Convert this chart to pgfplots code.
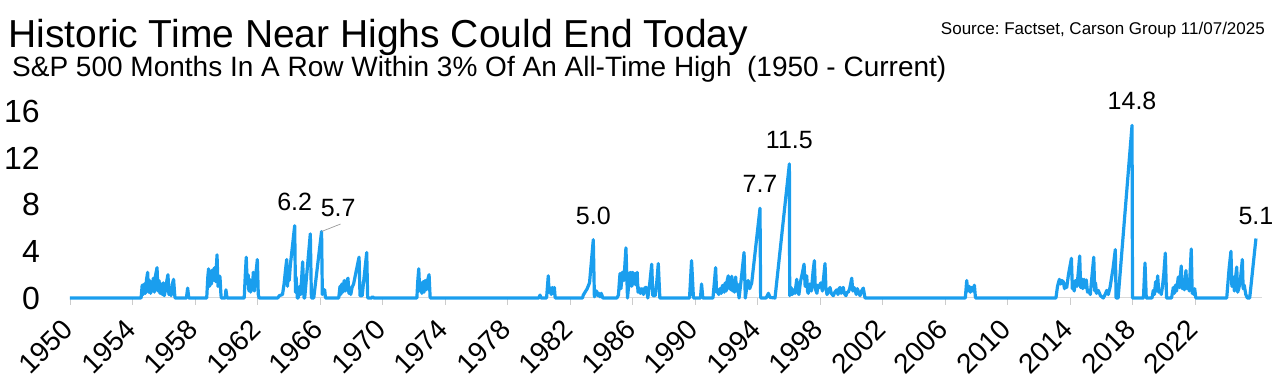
\documentclass[border=0pt]{standalone}
\usepackage{fontspec}
\setmainfont{Liberation Sans}
\usepackage{pgfplots}
\pgfplotsset{compat=1.18}
\definecolor{spx}{RGB}{26,158,238}
\frenchspacing
\begin{document}
\begin{tikzpicture}
\path[use as bounding box] (0pt,0pt) rectangle (1280pt,387pt);
\node[anchor=base west, inner sep=0pt, font=\fontsize{39}{44}\selectfont] at (8pt,339pt) {Historic Time Near Highs Could End Today};
\node[anchor=base east, inner sep=0pt, font=\fontsize{17}{20}\selectfont] at (1265pt,352pt) {Source: Factset, Carson Group 11/07/2025};
\node[anchor=base west, inner sep=0pt, font=\fontsize{28}{32}\selectfont] at (12pt,310pt) {S\&P 500 Months In A Row Within 3\% Of An All-Time High\ \ (1950 - Current)};
\begin{axis}[
  at={(70pt,89pt)}, anchor=south west,
  scale only axis, width=1192.2pt, height=186.6pt,
  xmin=1950, xmax=2026.3, ymin=0, ymax=16,
  clip=false,
  axis x line=bottom, axis y line=left,
  axis line style={-},
  x axis line style={draw=black!15, line width=1pt},
  y axis line style={draw=none},
  xtick={1950,1954,...,2022},
  ytick={0,4,8,12,16},
  tick align=outside,
  major tick length=7pt,
  x tick style={draw=black!20, line width=0.8pt},
  y tick style={draw=none},
  xticklabel style={font=\fontsize{28}{28}\selectfont, xshift=-2pt, yshift=-20pt, rotate=45, anchor=east, inner sep=0pt},
  yticklabel style={font=\fontsize{32}{32}\selectfont, anchor=east, inner sep=0pt, xshift=-23pt},
  /pgf/number format/1000 sep={},
  /pgf/number format/assume math mode=true,
]
\addplot[spx, line width=3.2pt, line join=round] coordinates {
(1950.0,0)
(1954.55,0) (1954.62,1.1) (1954.68,0.3) (1954.75,1.2) (1954.82,0.4) (1954.9,1.6) (1954.97,2.2) (1955.02,0.5) (1955.1,1.5) (1955.16,0.4) (1955.22,1.3) (1955.28,0.6) (1955.33,1.7) (1955.4,0.5) (1955.47,1.9) (1955.57,2.6) (1955.63,0.6) (1955.7,1.5) (1955.76,0.4) (1955.83,1.2) (1955.9,0.3) (1955.97,1.3) (1956.03,0.2) (1956.1,0.6) (1956.2,1.5) (1956.27,2.0) (1956.33,0.3) (1956.4,0.8) (1956.47,0.2) (1956.55,1.2) (1956.63,1.6) (1956.7,0.3) (1956.72,0)
(1957.45,0) (1957.53,0.85) (1957.6,0)
(1958.75,0) (1958.82,1.8) (1958.87,2.5) (1958.93,1.0) (1959.0,2.3) (1959.05,1.2) (1959.1,2.4) (1959.17,1.5) (1959.25,2.6) (1959.32,1.4) (1959.41,3.7) (1959.47,1.0) (1959.53,1.9) (1959.6,1.8) (1959.65,0.5) (1959.68,0) (1959.93,0) (1959.98,0.7) (1960.05,0)
(1961.15,0) (1961.22,2.0) (1961.28,3.5) (1961.34,1.2) (1961.4,2.0) (1961.45,0.6) (1961.5,1.6) (1961.56,0.5) (1961.62,1.4) (1961.68,0.7) (1961.73,2.2) (1961.8,0.6) (1961.87,1.8) (1961.93,2.5) (1961.99,3.3) (1962.05,0.3) (1962.1,0)
(1963.3,0) (1963.4,0.2) (1963.6,0.3) (1963.7,1.2) (1963.8,2.5) (1963.87,3.3) (1963.92,1.0) (1963.97,2.4) (1964.03,1.5) (1964.1,2.8) (1964.38,6.2) (1964.43,0.5) (1964.47,1.8) (1964.55,0) (1964.6,0) (1964.7,1.0) (1964.76,0.3) (1964.89,3.1) (1964.98,0) (1965.02,0) (1965.38,5.5) (1965.45,0) (1965.6,0) (1966.1,5.7) (1966.15,0.3) (1966.2,0.7) (1966.3,0.7) (1966.35,0)
(1967.2,0) (1967.28,1.0) (1967.33,0.3) (1967.4,1.2) (1967.46,0.5) (1967.55,1.5) (1967.62,0.6) (1967.7,1.4) (1967.79,1.7) (1967.85,0.4) (1967.9,0.9) (1967.97,0.3) (1968.05,0.9) (1968.15,1.2) (1968.3,2.2) (1968.5,3.5) (1968.56,0.2) (1968.7,0.2) (1968.8,1.5) (1968.99,3.9) (1969.05,0) (1969.3,0) (1969.37,0.1) (1969.45,0)
(1972.2,0) (1972.26,1.5) (1972.32,2.5) (1972.38,0.6) (1972.45,1.3) (1972.52,0.4) (1972.6,1.4) (1972.66,0.5) (1972.73,1.5) (1972.8,0.7) (1972.9,1.6) (1972.98,2.0) (1973.05,0)
(1980.0,0) (1980.08,0.25) (1980.15,0) (1980.5,0) (1980.61,1.9) (1980.66,0.5) (1980.72,0.9) (1980.8,0.3) (1980.87,0.9) (1980.93,0.4) (1981.0,0.9) (1981.05,0)
(1982.8,0) (1982.85,0.25) (1983.1,0.8) (1983.25,1.3) (1983.49,5.0) (1983.56,0.1) (1983.7,0.6) (1983.78,0.2) (1983.85,0.4) (1983.92,0.1) (1984.0,0.4) (1984.1,0)
(1985.0,0) (1985.1,0.25) (1985.15,1.2) (1985.2,2.1) (1985.26,0.8) (1985.35,2.2) (1985.45,1.5) (1985.58,4.3) (1985.68,0) (1985.75,1.0) (1985.82,2.1) (1985.88,2.2) (1985.95,1.0) (1986.02,2.2) (1986.1,1.2) (1986.18,2.1) (1986.24,1.1) (1986.3,2.2) (1986.35,0.5) (1986.4,0.9) (1986.5,0.4) (1986.6,0.8) (1986.7,0.3) (1986.8,0.9) (1986.9,0.9) (1986.98,0) (1987.1,1.2) (1987.23,2.9) (1987.3,0.2) (1987.45,0.2) (1987.55,1.3) (1987.65,2.95) (1987.75,0)
(1989.65,0) (1989.78,3.2) (1989.9,0) (1990.35,0) (1990.42,1.2) (1990.5,0)
(1991.15,0) (1991.25,1.5) (1991.32,2.6) (1991.38,0.5) (1991.45,0.7) (1991.52,0.3) (1991.6,0.8) (1991.68,0.4) (1991.74,1.0) (1991.8,1.1) (1991.87,0.5) (1991.94,1.3) (1992.0,0.6) (1992.06,1.5) (1992.13,1.9) (1992.19,0.8) (1992.25,1.5) (1992.3,0.7) (1992.35,1.86) (1992.41,0.6) (1992.47,1.2) (1992.53,0.5) (1992.6,1.8) (1992.66,0.6) (1992.72,1.2) (1992.82,0) (1992.95,1.5) (1993.14,3.9) (1993.22,0) (1993.32,1.0) (1993.4,1.5) (1993.5,0.8) (1993.63,1.3) (1994.16,7.7) (1994.2,0)
(1994.55,0) (1994.7,0.4) (1994.8,0.05) (1995.12,0) (1996.04,11.5) (1996.06,0.2) (1996.15,0.9) (1996.22,0.3) (1996.3,0.7) (1996.4,0.4) (1996.51,1.6) (1996.58,0.5) (1996.65,0.3) (1996.75,1.4) (1996.85,2.0) (1996.98,2.9) (1997.05,1.0) (1997.15,1.9) (1997.2,0.6) (1997.25,0.4) (1997.35,1.2) (1997.45,0.6) (1997.55,2.2) (1997.64,3.2) (1997.7,0.8) (1997.8,0.4) (1997.88,1.1) (1997.95,0.9) (1998.05,1.3) (1998.15,0.6) (1998.25,2.0) (1998.32,2.95) (1998.38,0.8) (1998.45,0.3) (1998.55,0.6) (1998.64,0.9) (1998.72,0.4) (1998.85,0.2) (1998.95,0.5) (1999.07,0.7) (1999.15,0.3) (1999.22,0.8) (1999.28,0.9) (1999.35,0.4) (1999.42,0.8) (1999.49,0.9) (1999.55,0.4) (1999.66,0.2) (1999.74,0.5) (1999.81,0.5) (1999.9,0.8) (2000.03,1.7) (2000.1,0.6) (2000.18,0.9) (2000.24,0.7) (2000.32,0.3) (2000.39,0.8) (2000.47,0.5) (2000.56,0.2) (2000.66,0.6) (2000.77,0.85) (2000.88,0)
(2007.3,0) (2007.39,1.5) (2007.45,0.6) (2007.55,1.0) (2007.62,0.5) (2007.7,0.9) (2007.78,0.6) (2007.88,1.1) (2007.95,0)
(2013.1,0) (2013.2,1.0) (2013.32,1.6) (2013.4,1.2) (2013.47,1.5) (2013.57,1.4) (2013.65,0.8) (2013.72,1.2) (2013.79,0.9) (2013.9,2.0) (2014.09,3.4) (2014.15,0.8) (2014.2,1.1) (2014.27,0.6) (2014.35,1.5) (2014.45,1.0) (2014.55,2.5) (2014.62,3.6) (2014.68,0.9) (2014.75,1.65) (2014.82,0.8) (2014.9,1.6) (2014.97,0.9) (2015.04,1.55) (2015.12,0.5) (2015.2,0.65) (2015.3,0.3) (2015.4,1.8) (2015.52,3.5) (2015.58,0.6) (2015.63,1.3) (2015.7,0.4) (2015.81,0.65) (2015.95,0.2) (2016.13,0) (2016.25,0.3) (2016.35,0.65) (2016.45,0.3) (2016.56,0.9) (2016.75,2.5) (2016.9,4.15) (2016.95,0) (2017.08,0) (2017.97,14.8) (2018.0,0)
(2018.7,0) (2018.8,3.0) (2018.88,0) (2019.25,0) (2019.33,0.65) (2019.4,0.3) (2019.48,1.4) (2019.54,0.6) (2019.61,1.9) (2019.68,0.5) (2019.76,0.65) (2019.84,0.3) (2019.91,0.9) (2020.0,2.0) (2020.1,3.85) (2020.18,0) (2020.5,0) (2020.61,0.9) (2020.68,0.4) (2020.75,1.1) (2020.82,0.6) (2020.93,1.8) (2021.0,0.9) (2021.12,2.75) (2021.18,0.8) (2021.25,1.4) (2021.32,0.7) (2021.42,2.35) (2021.48,0.8) (2021.55,1.6) (2021.63,0.6) (2021.7,2.5) (2021.76,4.2) (2021.82,0.4) (2021.85,0.65) (2021.92,0.3) (2021.98,0.8) (2022.05,0)
(2024.03,0) (2024.18,2.5) (2024.3,4.0) (2024.36,1.0) (2024.45,1.8) (2024.52,0.6) (2024.6,1.8) (2024.67,2.65) (2024.73,0.5) (2024.8,0.8) (2024.9,1.5) (2025.03,3.3) (2025.08,0.8) (2025.15,1.1) (2025.25,0.3) (2025.35,0) (2025.5,0) (2025.9,5.1)
};
\begin{scope}[every node/.style={font=\fontsize{25}{25}\selectfont, inner sep=0pt, anchor=center}]
\node[yshift=23.5pt] at (axis cs:1964.38,6.2) {6.2};
\draw[black!40, line width=0.7pt] (axis cs:1966.1,5.7) -- ++(19pt,7.5pt);
\node[xshift=16.6pt, yshift=23.4pt] at (axis cs:1966.1,5.7) {5.7};
\node[yshift=23.5pt] at (axis cs:1983.49,5.0) {5.0};
\node[yshift=24pt] at (axis cs:1994.16,7.7) {7.7};
\node[yshift=24pt] at (axis cs:1996.04,11.5) {11.5};
\node[yshift=24pt] at (axis cs:2017.97,14.8) {14.8};
\node[yshift=22pt] at (axis cs:2025.9,5.1) {5.1};
\end{scope}
\end{axis}
\end{tikzpicture}
\end{document}
